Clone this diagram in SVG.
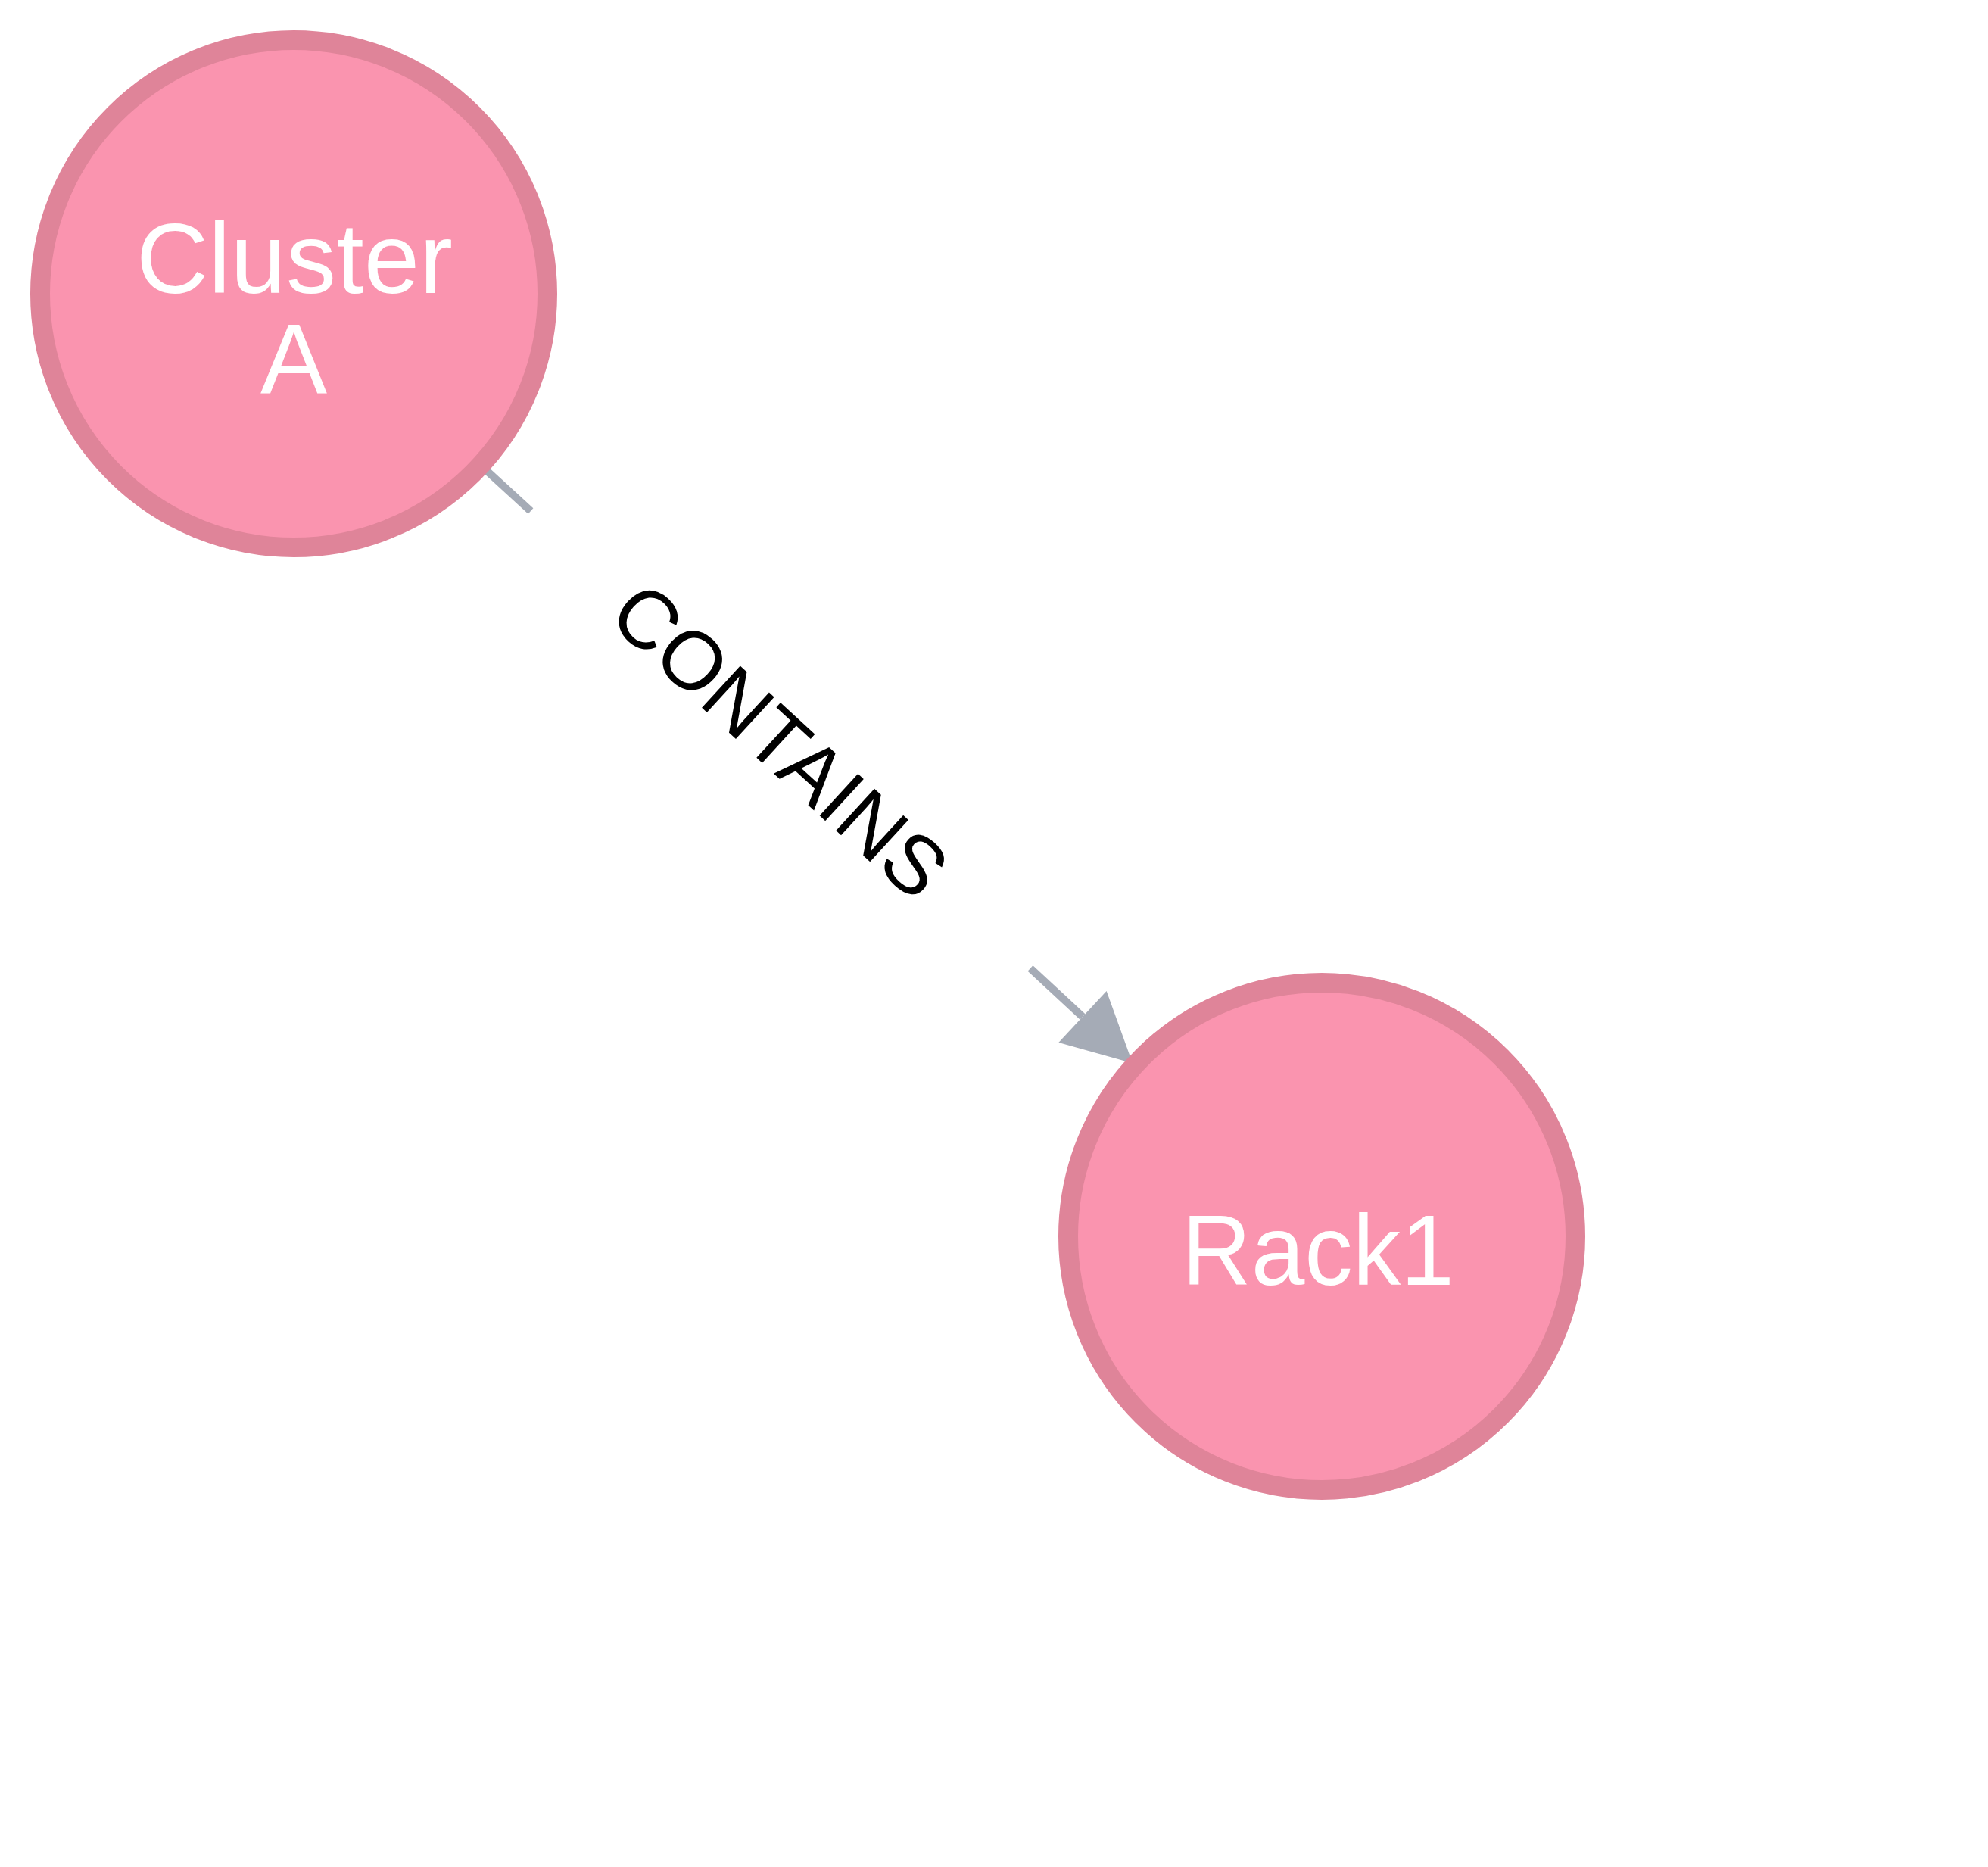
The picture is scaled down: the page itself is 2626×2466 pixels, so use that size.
<svg xmlns="http://www.w3.org/2000/svg" width="2626" height="2466" viewBox="0 0 2626 2466">
  <style>
    .node-circle { fill: #FA94AF; stroke: #DF8499; stroke-width: 26; }
    .node-label { font-family: "Liberation Sans", Arial, sans-serif; font-size: 132px; fill: #FFFFFF; text-anchor: middle; }
    .edge { stroke: #A5ABB6; stroke-width: 10; fill: none; }
    .edge-label { font-family: "Liberation Sans", Arial, sans-serif; font-size: 109px; fill: #000000; text-anchor: middle; }
  </style>
  <defs>
    <marker id="arrow" markerUnits="userSpaceOnUse" viewBox="0 -46.5 90 93" markerWidth="90" markerHeight="93" refX="0" refY="0" orient="auto" overflow="visible">
      <path d="M0,-46.5 L90,0 L0,46.5 Z" fill="#A5ABB6"/>
    </marker>
  </defs>
  <rect width="2626" height="2466" fill="#FFFFFF"/>
  <g id="connectors">
    <g id="edge-contains">
      <line class="edge" x1="388" y1="388" x2="701" y2="675"/>
      <line class="edge" x1="1361" y1="1279" x2="1430" y2="1343" marker-end="url(#arrow)"/>
      <text class="edge-label" transform="translate(1031,977) rotate(42.5)" x="0" y="39">CONTAINS</text>
    </g>
  </g>
  <g id="node-cluster-a">
    <circle class="node-circle" cx="388" cy="388" r="335"/>
    <text class="node-label" x="389" y="387">Cluster</text>
    <text class="node-label" x="388" y="520">A</text>
  </g>
  <g id="node-rack1">
    <circle class="node-circle" cx="1746" cy="1633" r="335"/>
    <text class="node-label" x="1741" y="1697" textLength="360" lengthAdjust="spacingAndGlyphs">Rack1</text>
  </g>
</svg>
